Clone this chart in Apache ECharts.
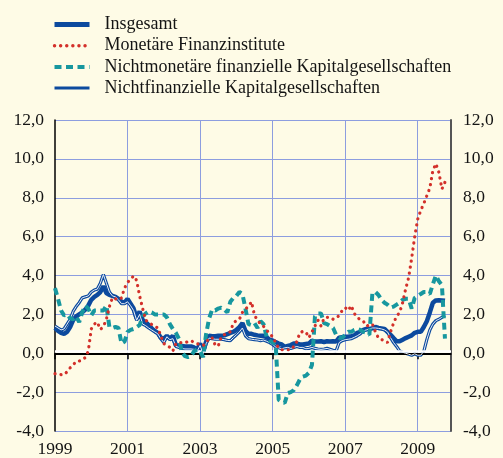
<!DOCTYPE html>
<html><head><meta charset="utf-8">
<script src="https://cdn.jsdelivr.net/npm/echarts@6/dist/echarts.min.js"></script>
<style>html,body{margin:0;padding:0;background:#fefbe6;}#c{width:503px;height:458px;}</style>
</head><body><div id="c"></div>
<script>
const seriesNames = ['Insgesamt', 'Monetäre Finanzinstitute', 'Nichtmonetäre finanzielle Kapitalgesellschaften', 'Nichtfinanzielle Kapitalgesellschaften'];
// monthly categories Jan 1999 .. Dec 2009 (data through Oct 2009)
const months = [];
for (let y = 1999; y <= 2009; y++) for (let m = 1; m <= 12; m++) months.push(y + '-' + String(m).padStart(2, '0'));
const yMin = -4, yMax = 12, yStep = 2;

const insgesamt = [
  1.3, 1.15, 1.05, 1.0, 1.1, 1.35, 1.7, 1.9, 2.0, 2.1, 2.25, 2.45,
  2.75, 2.9, 3.0, 3.15, 3.45, 3.1, 3.0, 2.95, 2.9, 2.8, 2.65, 2.6,
  2.8, 2.55, 2.3, 1.8, 2.15, 1.7, 1.6, 1.45, 1.28, 1.15, 1.05, 0.8,
  0.75, 0.9, 0.75, 0.9, 0.4, 0.4, 0.38, 0.35, 0.35, 0.35, 0.3, 0.18,
  0.5, 0.08, 0.6, 0.9, 0.88, 0.88, 0.9, 0.9, 0.92, 0.98, 1.05, 1.1,
  1.2, 1.35, 1.55, 1.15, 1.0, 1.0, 0.95, 0.92, 0.9, 0.9, 0.83, 0.7,
  0.65, 0.57, 0.5, 0.45, 0.33, 0.38, 0.42, 0.5, 0.5, 0.45, 0.45, 0.48,
  0.5, 0.65, 0.6, 0.6, 0.62, 0.58, 0.62, 0.6, 0.62, 0.6, 0.8, 0.83,
  0.85, 0.85, 0.88, 0.92, 1.05, 1.1, 1.2, 1.25, 1.25, 1.28, 1.35, 1.3,
  1.28, 1.25, 1.1, 0.95, 0.78, 0.62, 0.62, 0.7, 0.78, 0.85, 0.92, 1.05,
  1.1, 1.1, 1.35, 1.65, 2.1, 2.6, 2.72, 2.73, 2.72, 2.7
];
const monetaer = [
  -1.05, -1.05, -1.1, -1.1, -0.95, -0.75, -0.6, -0.42, -0.4, -0.35, -0.22, 0.1,
  1.25, 1.5, 1.6, 1.22, 1.37, 1.75, 2.4, 2.85, 2.8, 2.75, 2.85, 3.35,
  3.65, 3.8, 3.98, 3.75, 2.95, 2.3, 1.7, 1.58, 1.48, 1.4, 1.3, 0.9,
  0.5, 0.42, 0.3, 0.12, 0.5, 0.55, 0.55, 0.54, 0.6, 0.65, 0.55, 0.49,
  0.45, 0.4, 0.55, 0.78, 0.79, 0.42, 0.37, 0.85, 0.95, 1.05, 1.1, 1.55,
  1.68, 1.75, 2.1, 2.28, 2.4, 2.65, 1.95, 1.7, 1.5, 1.38, 1.2, 1.0,
  0.85, 0.55, 0.25, 0.18, 0.18, 0.18, 0.18, 0.35, 0.6, 1.05, 1.13, 1.1,
  0.8, 1.1, 1.4, 1.7, 1.4, 1.8, 1.85, 1.85, 1.75, 1.8, 1.95, 2.2,
  2.35, 2.2, 2.45, 2.05, 1.85, 1.72, 1.65, 1.4, 1.45, 1.5, 1.1, 0.78,
  0.7, 0.65, 0.55, 1.1, 1.55, 1.9, 2.1, 2.6, 3.3, 3.9, 4.9, 6.0,
  6.9, 7.35, 7.7, 8.1, 8.5, 9.4, 9.75, 9.3, 8.45, 8.8
];
const nichtmonetaer = [
  3.35, 2.8, 2.2, 1.95, 2.0, 1.8, 1.75, 1.9, 1.6, 2.1, 2.45, 2.3,
  1.95, 2.2, 2.2, 2.2, 2.2, 2.45, 1.35, 1.3, 1.35, 1.3, 0.5, 0.6,
  1.1, 1.2, 1.25, 1.35, 1.45, 1.9, 2.05, 2.15, 2.1, 2.0, 2.0, 2.0,
  2.0, 1.85, 1.5, 1.25, 1.05, 0.75, 0.05, -0.15, -0.2, -0.15, 0.1, 0.2,
  0.1, -0.2, 1.0, 1.8, 2.25, 2.2, 2.3, 2.35, 2.25, 2.1, 2.65, 2.85,
  2.95, 3.15, 3.05, 2.3, 1.5, 1.45, 1.55, 1.3, 1.65, 1.5, 0.85, 0.65,
  0.55, 0.45, -2.4, -2.5, -2.55, -2.05, -2.0, -1.9, -1.65, -1.35, -1.2, -1.15,
  -1.0, -0.6, 1.9, 2.05, 2.05, 1.55, 1.5, 1.4, 1.3, 0.95, 0.8, 0.8,
  0.95, 1.1, 1.1, 1.2, 1.25, 1.2, 1.1, 1.05, 0.95, 3.1, 3.15, 3.0,
  2.75, 2.6, 2.5, 2.35, 2.4, 2.5, 2.6, 2.75, 2.8, 2.8, 2.3, 2.85,
  2.95, 3.05, 3.15, 3.15, 3.05, 3.55, 4.0, 3.7, 3.5, 0.75
];
const nichtfinanziell = [
  1.4, 1.3, 1.2, 1.25, 1.5, 1.75, 2.15, 2.4, 2.6, 2.85, 2.9, 2.95,
  3.15, 3.25, 3.3, 3.6, 4.05, 3.6, 3.15, 2.95, 2.9, 2.75, 2.55, 2.55,
  2.65, 2.45, 2.2, 1.7, 2.0, 1.5, 1.42, 1.3, 1.2, 1.1, 1.0, 0.75,
  0.55, 0.85, 0.7, 0.75, 0.35, 0.3, 0.25, 0.22, 0.22, 0.22, 0.2, 0.1,
  0.4, -0.03, 0.5, 0.78, 0.75, 0.72, 0.72, 0.72, 0.7, 0.66, 0.65, 0.8,
  0.95, 1.1, 1.3, 0.9, 0.75, 0.72, 0.7, 0.68, 0.65, 0.68, 0.62, 0.55,
  0.45, 0.32, 0.28, 0.23, 0.28, 0.3, 0.25, 0.3, 0.35, 0.3, 0.3, 0.23,
  0.25, 0.3, 0.25, 0.22, 0.2, 0.22, 0.25, 0.2, 0.15, 0.12, 0.55, 0.65,
  0.7, 0.72, 0.75, 0.82, 0.9, 1.0, 1.15, 1.2, 1.25, 1.3, 1.3, 1.28,
  1.25, 1.2, 1.1, 0.8, 0.55, 0.35, 0.12, 0.05, 0.0, -0.05, -0.1, -0.03,
  -0.1, -0.1, 0.1, 0.7, 1.2, 1.5, 1.68, 1.75, 1.85, 1.95
];

const FONT = '"Liberation Serif", "Times New Roman", serif';
const TXT = '#141414';
const BLUE = '#0c4a9e', RED = '#d3302a', TEAL = '#17979f', GRID = '#8d9ddf';
const fmt = v => v.toFixed(1).replace('.', ',');
const yearTick = i => i % 24 === 0;
const legendWidths = [5, 3.4, 4, 3];

const chart = echarts.init(document.getElementById('c'), null, {renderer: 'canvas'});
chart.setOption({
  backgroundColor: '#fefbe6',
  animation: false,
  legend: {
    data: seriesNames.map((n, i) => ({name: n, lineStyle: {width: legendWidths[i]}})),
    orient: 'vertical', left: 52, top: 15.5, padding: 0,
    itemWidth: 35, itemHeight: 14, itemGap: 3.2,
    itemStyle: {opacity: 0, borderWidth: 0},
    textStyle: {fontFamily: FONT, fontSize: 18, lineHeight: 14, color: TXT, padding: [0, 0, 0, 10]},
    selectedMode: false
  },
  grid: {left: 55, right: 52, top: 120, bottom: 24},
  xAxis: {
    type: 'category', data: months, boundaryGap: false,
    axisLine: {lineStyle: {color: '#000', width: 1.5}},
    axisTick: {show: true, interval: yearTick, length: 6, lineStyle: {color: '#000', width: 1.5}},
    axisLabel: {interval: yearTick, formatter: v => v.slice(0, 4), margin: 9, fontFamily: FONT, fontSize: 17.5, color: TXT},
    splitLine: {show: true, interval: (i) => i % 24 === 0 && i > 0, lineStyle: {color: GRID, width: 1}}
  },
  yAxis: [
    {type: 'value', min: yMin, max: yMax, interval: yStep,
     axisLine: {show: true, onZero: false, lineStyle: {color: '#000', width: 1.5}},
     axisTick: {show: false},
     axisLabel: {formatter: fmt, margin: 11, fontFamily: FONT, fontSize: 17.5, color: TXT},
     splitLine: {show: true, lineStyle: {color: GRID, width: 1}}},
    {type: 'value', position: 'right', min: yMin, max: yMax, interval: yStep,
     axisLine: {show: true, onZero: false, lineStyle: {color: '#555', width: 2}},
     axisTick: {show: false},
     axisLabel: {formatter: fmt, margin: 12, fontFamily: FONT, fontSize: 17.5, color: TXT},
     splitLine: {show: false}}
  ],
  series: [
    {name: 'zero', type: 'line', data: [], z: 1, silent: true,
     markLine: {silent: true, symbol: 'none', label: {show: false},
       data: [
         {yAxis: 0.11, lineStyle: {color: '#ffffff', width: 2.5, type: 'solid'}},
         {yAxis: 0, lineStyle: {color: '#000000', width: 2, type: 'solid'}}
       ]}},
    {name: seriesNames[0], type: 'line', data: insgesamt, showSymbol: false, symbol: 'none', z: 3,
     lineStyle: {color: BLUE, width: 4.5}, itemStyle: {color: BLUE}},
    {name: seriesNames[3], type: 'line', data: nichtfinanziell, showSymbol: false, symbol: 'none', z: 4,
     lineStyle: {color: BLUE, width: 3.2}, itemStyle: {color: BLUE}},
    {name: 'nf-core', type: 'line', data: nichtfinanziell, showSymbol: false, symbol: 'none', z: 5, silent: true,
     lineStyle: {color: '#e8eef8', width: 1}, itemStyle: {color: '#e8eef8'}},
    {name: seriesNames[2], type: 'line', data: nichtmonetaer, showSymbol: false, symbol: 'none', z: 6,
     lineStyle: {color: TEAL, width: 4, type: [7, 4.5]}, itemStyle: {color: TEAL}},
    {name: seriesNames[1], type: 'line', data: monetaer, showSymbol: false, symbol: 'none', z: 7,
     lineStyle: {color: RED, width: 3.2, type: [0.1, 6], cap: 'round'}, itemStyle: {color: RED}}
  ]
});
</script></body></html>
